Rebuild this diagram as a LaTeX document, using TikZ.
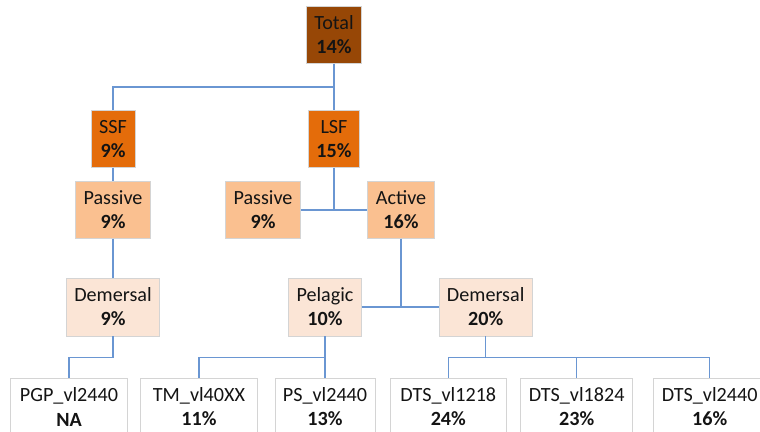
\documentclass[tikz,border=0pt]{standalone}
\usepackage{fontspec}
\setmainfont{Carlito}
\usetikzlibrary{positioning}

\definecolor{rootFill}{HTML}{974706}
\definecolor{fleetFill}{HTML}{E46C0A}
\definecolor{gearFill}{HTML}{FAC090}
\definecolor{habitatFill}{HTML}{FBE5D6}
\definecolor{boxLine}{HTML}{D4D4D4}
\definecolor{linkBlue}{HTML}{6A96D2}

\tikzstyle{boxes} = [rectangle, draw=boxLine, line width=0.6pt, align=center, text=black!92,
inner xsep=0.24cm, minimum height=1.7cm, font=\fontsize{17.2}{20.5}\selectfont]
\tikzstyle{rootBox} = [boxes, fill=rootFill]
\tikzstyle{fleetBox} = [boxes, fill=fleetFill]
\tikzstyle{gearBox} = [boxes, fill=gearFill]
\tikzstyle{habitatBox} = [boxes, fill=habitatFill, minimum height=1.74cm]
\tikzstyle{segmentBox} = [boxes, fill=white, minimum width=3.5cm, minimum height=1.74cm]
\tikzstyle{link} = [line width=0.9pt, draw=linkBlue]

\begin{document}
\begin{tikzpicture}[on grid]
    \useasboundingbox (0,0) rectangle (22.8,-12.96);
    \clip (0,0) rectangle (22.8,-12.96);

    % fleets
    \node (total) [rootBox] at (10.02,-1.05) {Total\\\textbf{14\%}};
    \node (lsf) [fleetBox, below=3.12cm of total] {LSF\\\textbf{15\%}};
    \node (ssf) [fleetBox, left=6.63cm of lsf] {SSF\\\textbf{9\%}};
    \coordinate [below=1.56cm of total] (totalFork);

    % gear types
    \node (ssfPassive) [gearBox, below=2.13cm of ssf] {Passive\\\textbf{9\%}};
    \node (lsfPassive) [gearBox, below left=2.13cm and 2.13cm of lsf] {Passive\\\textbf{9\%}};
    \node (lsfActive) [gearBox, below right=2.13cm and 2.01cm of lsf] {Active\\\textbf{16\%}};

    % habitat
    \node (ssfDemersal) [habitatBox, below=2.91cm of ssfPassive] {Demersal\\\textbf{9\%}};
    \node (pelagic) [habitatBox, below left=2.91cm and 2.28cm of lsfActive] {Pelagic\\\textbf{10\%}};
    \node (lsfDemersal) [habitatBox, below right=2.91cm and 2.54cm of lsfActive] {Demersal\\\textbf{20\%}};

    % fleet segments
    \node (pgp) [segmentBox, below left=3cm and 1.32cm of ssfDemersal] {PGP\_vl2440\\\textbf{NA}};
    \node (tm) [segmentBox, below left=3cm and 3.78cm of pelagic] {TM\_vl40XX\\\textbf{11\%}};
    \node (ps) [segmentBox, below=3cm of pelagic, minimum width=2.97cm] {PS\_vl2440\\\textbf{13\%}};
    \node (dts1218) [segmentBox, below left=3cm and 1.12cm of lsfDemersal] {DTS\_vl1218\\\textbf{24\%}};
    \node (dts1824) [segmentBox, below right=3cm and 2.73cm of lsfDemersal, minimum width=3.36cm] {DTS\_vl1824\\\textbf{23\%}};
    \node (dts2440) [segmentBox, below right=3cm and 6.72cm of lsfDemersal, minimum width=3.3cm] {DTS\_vl2440\\\textbf{16\%}};

    \draw[link] (total) -- (lsf);
    \draw[link] (ssf) |- (totalFork);
    \draw[link] (ssf) -- (ssfPassive);
    \draw[link] (ssfPassive) -- (ssfDemersal);
    \draw[link] (lsf) -- (lsf |- lsfActive);
    \draw[link] (lsfPassive) -- (lsfActive);
    \draw[link] (lsfActive) -- (lsfActive |- pelagic);
    \draw[link] (pelagic) -- (lsfDemersal);
    \draw[link] (ssfDemersal.south) -- ++(0,-0.63) -| (pgp.north);
    \draw[link] (pelagic.south) -- ++(0,-0.63) -| (tm.north);
    \draw[link] (pelagic) -- (ps);
    \draw[link] (lsfDemersal.south) -- ++(0,-0.63) -| (dts1218.north);
    \draw[link] (lsfDemersal.south) -- ++(0,-0.63) -| (dts2440.north);
    \draw[link] (lsfDemersal.south) ++(0,-0.63) -| (dts1824.north);

\end{tikzpicture}
\end{document}
